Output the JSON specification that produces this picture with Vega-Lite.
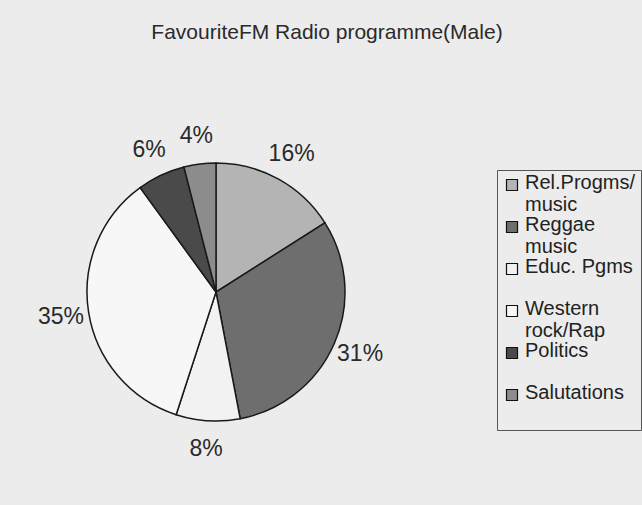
{
  "$schema": "https://vega.github.io/schema/vega-lite/v6.json",
  "width": 432,
  "height": 426,
  "autosize": {"type": "none"},
  "padding": {"left": 0, "top": 79, "right": 210, "bottom": 0},
  "background": "#ececec",
  "title": {
    "text": "FavouriteFM Radio programme(Male)",
    "font": "Liberation Sans",
    "fontSize": 21,
    "fontWeight": "normal",
    "color": "#2a2a2a",
    "anchor": "middle",
    "frame": "group",
    "dx": 111,
    "offset": 36
  },
  "config": {"view": {"stroke": null}},
  "data": {
    "values": [
      {"programme": "Rel.Progms/ music", "share": 16, "rank": 1, "label": "16%"},
      {"programme": "Reggae music", "share": 31, "rank": 2, "label": "31%"},
      {"programme": "Educ. Pgms", "share": 8, "rank": 3, "label": "8%"},
      {"programme": "Western rock/Rap", "share": 35, "rank": 4, "label": "35%"},
      {"programme": "Politics", "share": 6, "rank": 5, "label": "6%"},
      {"programme": "Salutations", "share": 4, "rank": 6, "label": "4%"}
    ]
  },
  "encoding": {
    "theta": {"field": "share", "type": "quantitative", "stack": true},
    "order": {"field": "rank", "type": "quantitative"}
  },
  "layer": [
    {
      "mark": {"type": "arc", "radius": 129, "stroke": "#1a1a1a", "strokeWidth": 1.5},
      "encoding": {
        "color": {
          "field": "programme",
          "type": "nominal",
          "sort": ["Rel.Progms/ music", "Reggae music", "Educ. Pgms", "Western rock/Rap", "Politics", "Salutations"],
          "scale": {
            "domain": ["Rel.Progms/ music", "Reggae music", "Educ. Pgms", "Western rock/Rap", "Politics", "Salutations"],
            "range": ["#b4b4b4", "#6e6e6e", "#f2f2f2", "#f7f7f7", "#4a4a4a", "#8c8c8c"]
          },
          "legend": {
            "orient": "none",
            "legendX": 497,
            "legendY": 91,
            "title": null,
            "labelExpr": "datum.label == 'Rel.Progms/ music' ? ['Rel.Progms/', 'music'] : datum.label == 'Reggae music' ? ['Reggae', 'music'] : datum.label == 'Western rock/Rap' ? ['Western', 'rock/Rap'] : [datum.label, ' ']",
            "labelFont": "Liberation Sans",
            "labelFontSize": 20,
            "labelColor": "#222222",
            "labelBaseline": "top",
            "labelOffset": 3,
            "labelLimit": 250,
            "symbolType": "square",
            "symbolSize": 121,
            "symbolStrokeColor": "#111111",
            "symbolStrokeWidth": 1.2,
            "symbolOpacity": 1,
            "strokeColor": "#555555",
            "fillColor": "#ececec",
            "padding": 5,
            "rowPadding": 0,
            "encoding": {"labels": {"dy": {"value": -12}}}
          }
        }
      }
    },
    {
      "mark": {"type": "text", "radius": 157, "fontSize": 23, "font": "Liberation Sans", "color": "#2a2a2a"},
      "encoding": {"text": {"field": "label", "type": "nominal"}}
    }
  ]
}
